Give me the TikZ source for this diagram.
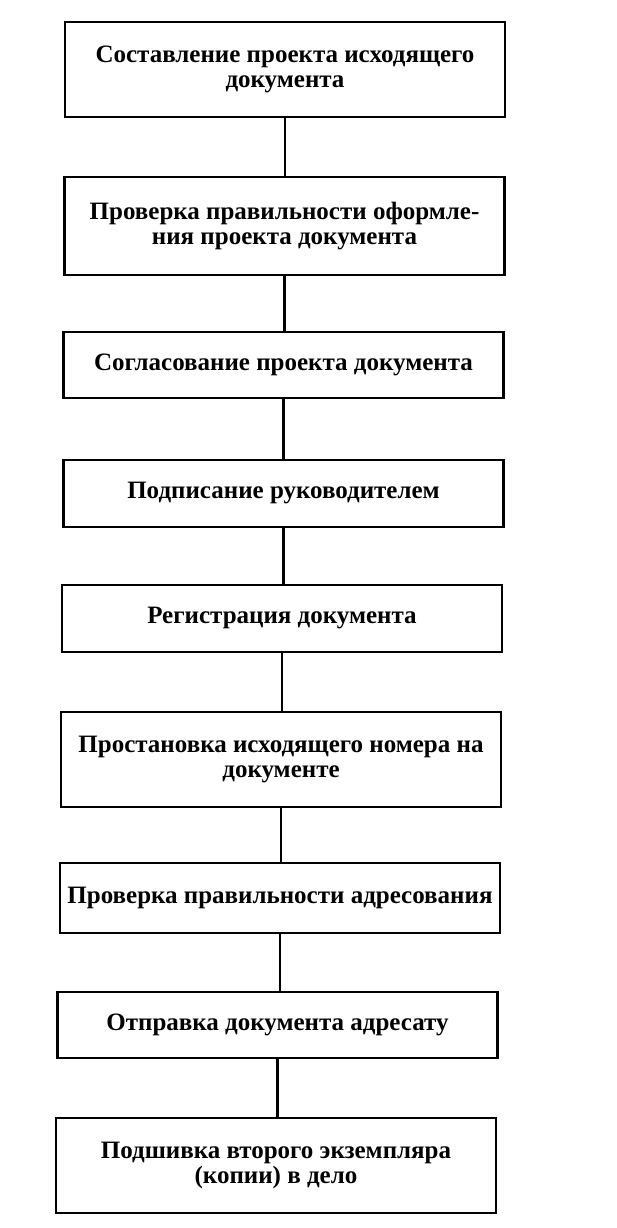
\documentclass[tikz,border=0pt]{standalone}
\usepackage{fontspec}
\setmainfont{Liberation Serif}
\usetikzlibrary{calc}
\newcommand{\stagefont}{\fontsize{25}{25}\selectfont\bfseries}
\tikzstyle{stage}=[draw, line width=2.6pt, minimum width=440pt, inner sep=0pt, align=center, font=\stagefont]
\tikzstyle{link}=[line width=2.4pt]

\begin{document}
\begin{tikzpicture}[x=1pt, y=-1pt]

   \useasboundingbox (0,0) rectangle (617,1228);

    \foreach \pos/ \boxh/ \name / \label in {
        {(285,69.5)/95/s1/Составление проекта исходящего\\документа},
        {(284.5,226)/98/s2/Проверка правильности оформле-\\ния проекта документа},
        {(283.5,365)/66/s3/Согласование проекта документа},
        {(283.5,493.5)/67/s4/Подписание руководителем},
        {(282,618.5)/67/s5/Регистрация документа},
        {(281,759.5)/95/s6/Простановка исходящего номера на\\документе},
        {(280,898)/70/s7/Проверка правильности адресования},
        {(277.5,1025)/66/s8/Отправка документа адресату},
        {(276,1165.5)/95/s9/Подшивка второго экземпляра\\(копии) в дело}}
        \node[stage, minimum height=\boxh pt] (\name) at \pos {\label};

    \foreach \a/ \b in {s1/s2, s2/s3, s3/s4, s4/s5, s5/s6, s6/s7, s7/s8, s8/s9}
        \draw[link] (\a.south) -- (\a.south |- \b.north);

\end{tikzpicture}
\end{document}
